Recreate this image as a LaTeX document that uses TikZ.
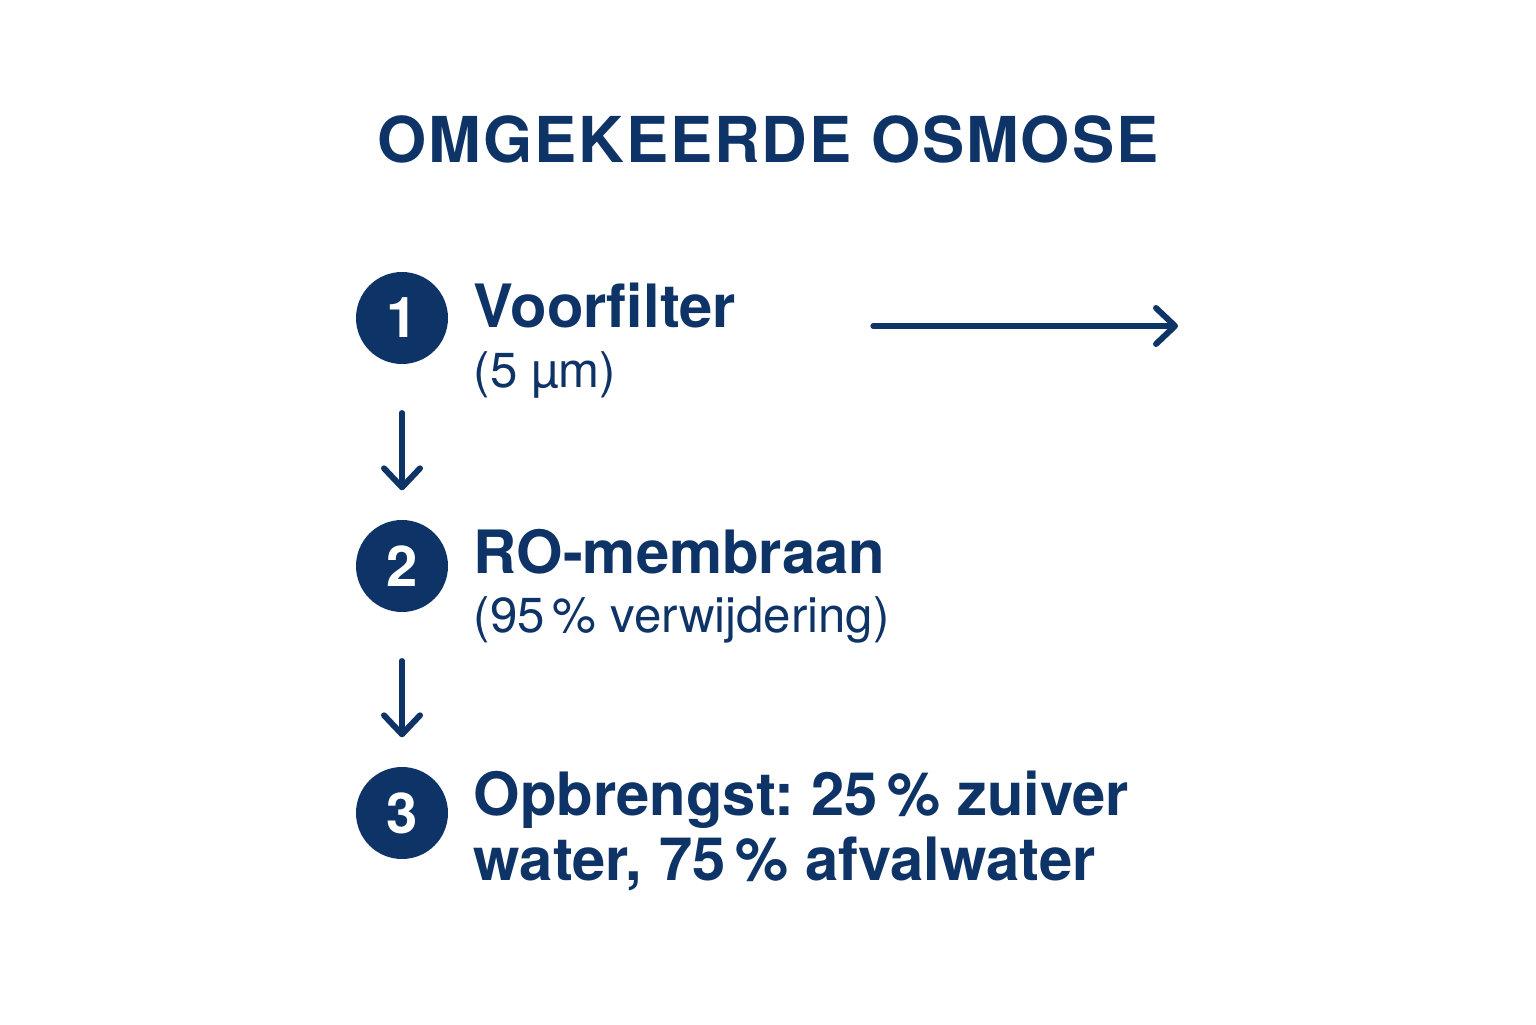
\documentclass[tikz,border=0pt]{standalone}
\usepackage{fontspec}
\setmainfont{TeX Gyre Heros}
\usetikzlibrary{arrows.meta}
\definecolor{navy}{HTML}{0E3366}
\frenchspacing

\begin{document}
\begin{tikzpicture}[
  stepnum/.style={circle, fill=navy, text=white, minimum size=0.92cm, inner sep=0pt,
    font=\fontsize{16pt}{16pt}\selectfont\bfseries},
  steptitle/.style={anchor=base west, inner sep=0pt, text=navy,
    font=\fontsize{17pt}{17pt}\selectfont\bfseries},
  stepnote/.style={anchor=base west, inner sep=0pt, text=navy,
    font=\fontsize{14pt}{14pt}\selectfont},
  flow/.style={navy, line width=1.5pt, line cap=round,
    -{Straight Barb[length=1.9mm, width=3.6mm, line width=1.7pt, round]}}
]
\fill[white] (0,0) rectangle (15.36,10.24);
% title
\node[anchor=base, inner sep=0pt, text=navy,
  font=\fontsize{18pt}{18pt}\selectfont\bfseries\addfontfeature{LetterSpace=3}]
  (title) at (7.68,8.61) {OMGEKEERDE OSMOSE};
% steps
\node[stepnum] (s1) at (4.02,7.06) {1};
\node[stepnum] (s2) at (4.02,4.58) {2};
\node[stepnum] (s3) at (4.02,2.11) {3};
\node[steptitle] (t1) at (4.73,6.96) {Voorfilter};
\node[stepnote] (n1) at (4.73,6.37) {(5 µm)};
\node[steptitle] (t2) at (4.73,4.51) {RO-membraan};
\node[stepnote] (n2) at (4.73,3.92) {(95\,\% verwijdering)};
\node[steptitle] (t3) at (4.73,2.09) {Opbrengst: 25\,\% zuiver};
\node[steptitle] (t3b) at (4.73,1.44) {water, 75\,\% afvalwater};
% arrows
\coordinate (outA) at (8.73,6.98);
\coordinate (outB) at (11.78,6.98);
\draw[flow] (outA) -- (outB);
\draw[flow, shorten <=0.48cm, shorten >=0.29cm] (s1) -- (s2);
\draw[flow, shorten <=0.48cm, shorten >=0.29cm] (s2) -- (s3);
\end{tikzpicture}
\end{document}
